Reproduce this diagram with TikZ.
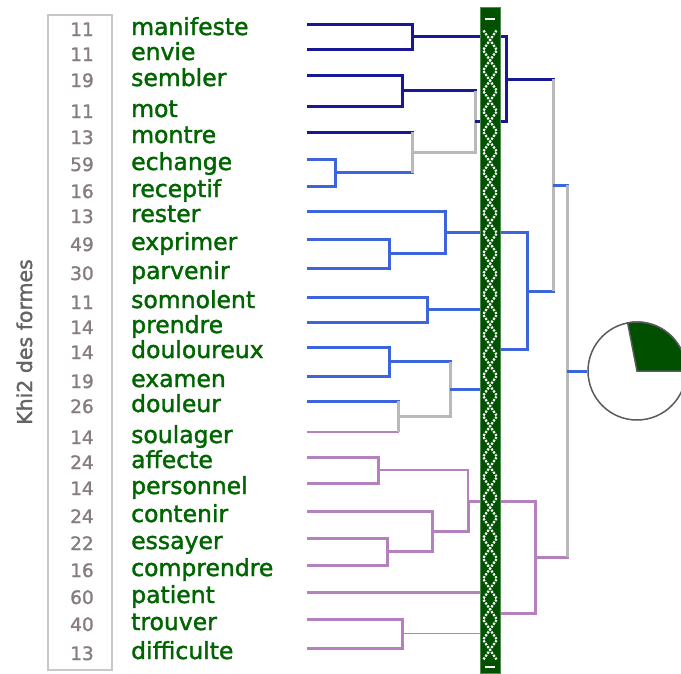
\documentclass[tikz,border=0pt]{standalone}
\usepackage{fontspec}
\setmainfont{DejaVu Sans}
\newfontfamily\wordfont[FakeBold=1.6]{DejaVu Sans}
\usepackage{tikz}

\definecolor{wordgreen}{RGB}{0,100,0}
\definecolor{chigray}{RGB}{135,125,128}
\definecolor{khigray}{RGB}{100,100,100}
\definecolor{boxgray}{RGB}{200,200,200}
\definecolor{navycol}{RGB}{24,24,150}
\definecolor{bluecol}{RGB}{60,100,220}
\definecolor{mauvecol}{RGB}{180,128,190}
\definecolor{mergecol}{RGB}{185,185,185}
\definecolor{bargreen}{RGB}{0,82,0}
\definecolor{barrim}{RGB}{80,140,80}
\definecolor{piegreen}{RGB}{0,80,0}
\definecolor{piegray}{RGB}{90,90,90}

\begin{document}
\begin{tikzpicture}[x=1pt, y=-1pt,
    word/.style={anchor=base west, inner sep=0pt, text=wordgreen, font=\wordfont\fontsize{23.5}{24}\selectfont},
    chi/.style={anchor=base, inner sep=0pt, text=chigray, font=\wordfont\fontsize{18.5}{19}\selectfont},
    classA/.style={draw=navycol, line width=3pt},
    classB/.style={draw=bluecol, line width=3pt},
    classC/.style={draw=mauvecol, line width=3pt},
    classCthin/.style={draw=mauvecol, line width=1.8pt},
    merge/.style={draw=mergecol, line width=3pt},
    bar/.style={rectangle, fill=bargreen, draw=barrim, line width=1pt, minimum width=20pt, minimum height=666pt, inner sep=0pt},
    lattice/.style={draw=white, line width=2.2pt, dash pattern=on 2.2pt off 1.3pt},
    pie/.style={circle, draw=piegray, line width=1.5pt, minimum size=98pt, inner sep=0pt}
]
\useasboundingbox (0,0) rectangle (681,673);

% Chi2 column
\draw[boxgray, line width=2.5pt] (48,15) rectangle (112,670);
\node[rotate=90, anchor=base, inner sep=0pt, text=khigray, font=\wordfont\fontsize{20.5}{21}\selectfont] (khi) at (32,342) {Khi2 des formes};

\node[chi] (c1) at (82,36) {11};
\node[chi] (c2) at (82,61) {11};
\node[chi] (c3) at (82,87) {19};
\node[chi] (c4) at (82,118) {11};
\node[chi] (c5) at (82,144) {13};
\node[chi] (c6) at (82,171) {59};
\node[chi] (c7) at (82,198) {16};
\node[chi] (c8) at (82,223) {13};
\node[chi] (c9) at (82,251) {49};
\node[chi] (c10) at (82,280) {30};
\node[chi] (c11) at (82,309) {11};
\node[chi] (c12) at (82,334) {14};
\node[chi] (c13) at (82,359) {14};
\node[chi] (c14) at (82,388) {19};
\node[chi] (c15) at (82,413) {26};
\node[chi] (c16) at (82,444) {14};
\node[chi] (c17) at (82,469) {24};
\node[chi] (c18) at (82,495) {14};
\node[chi] (c19) at (82,523) {24};
\node[chi] (c20) at (82,550) {22};
\node[chi] (c21) at (82,577) {16};
\node[chi] (c22) at (82,604) {60};
\node[chi] (c23) at (82,631) {40};
\node[chi] (c24) at (82,660) {13};

% Word labels
\node[word] (w1) at (131,35) {manifeste};
\node[word] (w2) at (131,60) {envie};
\node[word] (w3) at (131,86) {sembler};
\node[word] (w4) at (131,117) {mot};
\node[word] (w5) at (131,143) {montre};
\node[word] (w6) at (131,170) {echange};
\node[word] (w7) at (131,197) {receptif};
\node[word] (w8) at (131,222) {rester};
\node[word] (w9) at (131,250) {exprimer};
\node[word] (w10) at (131,279) {parvenir};
\node[word] (w11) at (131,308) {somnolent};
\node[word] (w12) at (131,333) {prendre};
\node[word] (w13) at (131,358) {douloureux};
\node[word] (w14) at (131,387) {examen};
\node[word] (w15) at (131,412) {douleur};
\node[word] (w16) at (131,443) {soulager};
\node[word] (w17) at (131,468) {affecte};
\node[word] (w18) at (131,494) {personnel};
\node[word] (w19) at (131,522) {contenir};
\node[word] (w20) at (131,549) {essayer};
\node[word] (w21) at (131,576) {comprendre};
\node[word] (w22) at (131,603) {patient};
\node[word] (w23) at (131,630) {trouver};
\node[word] (w24) at (131,659) {difficulte};

% Leaf ends of the tree
\coordinate (t1) at (307,24);
\coordinate (t2) at (307,49);
\coordinate (t3) at (307,75);
\coordinate (t4) at (307,106);
\coordinate (t5) at (307,132);
\coordinate (t6) at (307,159);
\coordinate (t7) at (307,186);
\coordinate (t8) at (307,211);
\coordinate (t9) at (307,239);
\coordinate (t10) at (307,268);
\coordinate (t11) at (307,297);
\coordinate (t12) at (307,322);
\coordinate (t13) at (307,347);
\coordinate (t14) at (307,376);
\coordinate (t15) at (307,401);
\coordinate (t16) at (307,432);
\coordinate (t17) at (307,457);
\coordinate (t18) at (307,483);
\coordinate (t19) at (307,511);
\coordinate (t20) at (307,538);
\coordinate (t21) at (307,565);
\coordinate (t22) at (307,592);
\coordinate (t23) at (307,619);
\coordinate (t24) at (307,648);

% Joints
\coordinate (jme) at (412,36.5);
\coordinate (jsm) at (402,90.5);
\coordinate (jer) at (335,172.5);
\coordinate (jmo) at (412,152.5);
\coordinate (jsmo) at (475,121.5);
\coordinate (jA) at (506,79);
\coordinate (jpa) at (389,253.5);
\coordinate (jrp) at (445,232);
\coordinate (jsp) at (427,309.5);
\coordinate (jde) at (389,361.5);
\coordinate (jds) at (398,416.5);
\coordinate (jdd) at (450,389);
\coordinate (jsd) at (490,349.5);
\coordinate (jB) at (527,291);
\coordinate (jAB) at (553,185);
\coordinate (jap) at (378,470);
\coordinate (jec) at (387,551.5);
\coordinate (jce) at (432,531);
\coordinate (jac) at (468,501);
\coordinate (jtd) at (402,633.5);
\coordinate (jpt) at (490,613);
\coordinate (jC) at (535,557);
\coordinate (jroot) at (567,371);

% Class A
\draw[classA] (t1) -| (jme);
\draw[classA] (t2) -| (jme);
\draw[classA] (t3) -| (jsm);
\draw[classA] (t4) -| (jsm);
\draw[classA] (t5) -| (jmo);
\draw[classB] (t6) -| (jer);
\draw[classB] (t7) -| (jer);
\draw[classB] (jer) -| (jmo);
\draw[merge] (t5 -| jmo) -- (jer -| jmo);
\draw[classA] (jsm) -| (jsmo);
\draw[merge] (jmo) -| (jsmo);
\draw[merge] (jsm -| jsmo) -- (jmo -| jsmo);
\draw[classA] (jme) -| (jA);
\draw[classA] (jsmo) -| (jA);

% Class B
\draw[classB] (t8) -| (jrp);
\draw[classB] (t9) -| (jpa);
\draw[classB] (t10) -| (jpa);
\draw[classB] (jpa) -| (jrp);
\draw[classB] (t11) -| (jsp);
\draw[classB] (t12) -| (jsp);
\draw[classB] (t13) -| (jde);
\draw[classB] (t14) -| (jde);
\draw[classB] (t15) -| (jds);
\draw[classCthin] (t16) -| (jds);
\draw[merge] (t15 -| jds) -- (t16 -| jds);
\draw[classB] (jde) -| (jdd);
\draw[merge] (jds) -| (jdd);
\draw[merge] (jde -| jdd) -- (jds -| jdd);
\draw[classB] (jsp) -| (jsd);
\draw[classB] (jdd) -| (jsd);
\draw[classB] (jrp) -| (jB);
\draw[classB] (jsd) -| (jB);

% A with B
\draw[classA] (jA) -| (jAB);
\draw[classB] (jB) -| (jAB);
\draw[merge] (jA -| jAB) -- (jB -| jAB);

% Class C
\draw[classC] (t17) -| (jap);
\draw[classC] (t18) -| (jap);
\draw[classC] (t19) -| (jce);
\draw[classC] (t20) -| (jec);
\draw[classC] (t21) -| (jec);
\draw[classC] (jec) -| (jce);
\draw[classCthin] (jap) -| (jac);
\draw[classC] (jce) -| (jac);
\draw[classC] (t22) -| (jpt);
\draw[classC] (t23) -| (jtd);
\draw[classC] (t24) -| (jtd);
\draw[classCthin] (jtd) -| (jpt);
\draw[classC] (jac) -| (jC);
\draw[classC] (jpt) -| (jC);

% Root
\draw[classB] (jAB) -| (jroot);
\draw[classC] (jC) -| (jroot);
\draw[merge] (jAB -| jroot) -- (jC -| jroot);

% Green bar over the tree
\node[bar] (bar) at (490,340) {};
\foreach \k in {0,...,30} {
  \pgfmathsetmacro\yc{40+20.33*\k}
  \draw[lattice] (483.5,\yc-9.5) -- (496.5,\yc+9.5) (483.5,\yc+9.5) -- (496.5,\yc-9.5);
}
\draw[white, line width=2pt] (485,19) -- (495,19);
\draw[white, line width=2pt] (485,667) -- (495,667);

% Pie
\node[pie] (pie) at (637,371) {};
\filldraw[fill=piegreen, draw=piegray, line width=1.5pt] (pie.center) -- ++(49,0) arc[start angle=0, end angle=-101, radius=49] -- cycle;
\draw[classB] (jroot) -- (pie);

\end{tikzpicture}
\end{document}
